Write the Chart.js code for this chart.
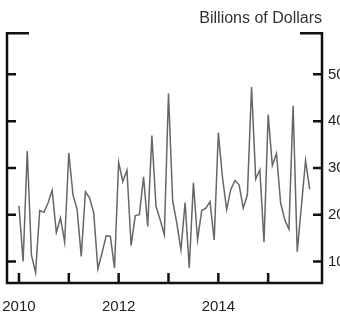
<!DOCTYPE html>
<html>
<head>
<meta charset="utf-8">
<script src="https://cdn.jsdelivr.net/npm/chart.js@4.4.1/dist/chart.umd.min.js"></script>
<style>
  html, body { margin: 0; padding: 0; background: #fff; overflow: hidden; }
  canvas { display: block; }
</style>
</head>
<body>
<canvas id="myLineChart" width="340" height="320"></canvas>
<script>
// monthly values, Jan 2010 .. Nov 2015 (billions of dollars)
var startYear = 2010;
var values = [
    21.9, 10.0, 33.6, 11.4, 7.6, 20.9, 20.5, 22.5, 25.2, 16.2, 19.3, 14.1,
    33.2, 24.3, 21.1, 11.1, 24.9, 23.6, 20.4, 8.4, 11.8, 15.5, 15.4, 8.6,
    31.2, 27.1, 29.5, 13.4, 19.8, 20.0, 28.1, 17.5, 36.9, 21.8, 18.9, 15.7,
    45.9, 23.0, 18.2, 12.5, 22.6, 8.6, 26.8, 14.6, 20.9, 21.4, 22.8, 14.6,
    37.5, 28.0, 21.1, 25.4, 27.3, 26.4, 21.4, 24.3, 47.3, 27.6, 29.6, 14.1,
    41.4, 30.5, 33.1, 22.5, 18.9, 16.9, 43.3, 12.1, 21.8, 31.6, 25.4
];
var yearTicks = [2010, 2011, 2012, 2013, 2014, 2015];
var yearLabels = ['2010', '', '2012', '', '2014', ''];
var yTicks = [10, 20, 30, 40, 50];

var points = values.map(function (v, i) {
    return { x: startYear + i / 12, y: v };
});

var fontFamily = "'Liberation Sans', Arial, sans-serif";

// black frame with short top stubs and inward tick marks
var framePlugin = {
    id: 'frame',
    afterDraw: function (chart) {
        var c = chart.ctx;
        var a = chart.chartArea;
        var xs = chart.scales.x;
        var ys = chart.scales.y;
        c.save();
        c.strokeStyle = '#111';
        c.lineWidth = 2.5;
        c.lineJoin = 'miter';
        c.lineCap = 'butt';
        c.beginPath();
        c.moveTo(a.left + 22, a.top);
        c.lineTo(a.left, a.top);
        c.lineTo(a.left, a.bottom);
        c.lineTo(a.right, a.bottom);
        c.lineTo(a.right, a.top);
        c.lineTo(a.right - 22, a.top);
        c.stroke();

        c.beginPath();
        yTicks.forEach(function (v) {
            var py = ys.getPixelForValue(v);
            c.moveTo(a.left, py);
            c.lineTo(a.left + 9, py);
            c.moveTo(a.right, py);
            c.lineTo(a.right - 9, py);
        });
        yearTicks.forEach(function (yr) {
            var px = xs.getPixelForValue(yr);
            c.moveTo(px, a.bottom);
            c.lineTo(px, a.bottom - 10);
        });
        c.stroke();
        c.restore();
    }
};

var ctx = document.getElementById('myLineChart').getContext('2d');

var chart = new Chart(ctx, {
    type: 'line',
    data: {
        datasets: [{
            data: points,
            borderColor: '#666',
            borderWidth: 1.5,
            pointRadius: 0,
            tension: 0,
            fill: false
        }]
    },
    options: {
        responsive: false,
        animation: false,
        layout: { padding: { top: 9, left: 7, right: 0, bottom: 0 } },
        plugins: {
            legend: { display: false },
            tooltip: { enabled: false },
            title: {
                display: true,
                text: 'Billions of Dollars',
                align: 'end',
                fullSize: false,
                color: '#333',
                font: { family: fontFamily, size: 16, weight: 'normal' },
                padding: { top: 0, bottom: 5 }
            }
        },
        scales: {
            x: {
                type: 'linear',
                position: 'bottom',
                min: 2009.76,
                max: 2016.08,
                grid: { display: false, drawTicks: true, tickLength: 13 },
                border: { display: false },
                afterBuildTicks: function (s) {
                    s.ticks = yearTicks.map(function (v) { return { value: v }; });
                },
                afterFit: function (s) { s.height = 37; },
                ticks: {
                    autoSkip: false,
                    maxRotation: 0,
                    padding: 2,
                    color: '#222',
                    font: { family: fontFamily, size: 15 },
                    callback: function (value) {
                        var i = yearTicks.indexOf(value);
                        return i >= 0 ? yearLabels[i] : '';
                    }
                }
            },
            y: {
                position: 'right',
                min: 5.4,
                max: 58.8,
                grid: { display: false, drawTicks: false },
                border: { display: false },
                afterBuildTicks: function (s) {
                    s.ticks = yTicks.map(function (v) { return { value: v }; });
                },
                afterFit: function (s) { s.width = 18; },
                ticks: {
                    padding: 6,
                    color: '#222',
                    font: { family: fontFamily, size: 15 }
                }
            }
        }
    },
    plugins: [framePlugin]
});
</script>
</body>
</html>
